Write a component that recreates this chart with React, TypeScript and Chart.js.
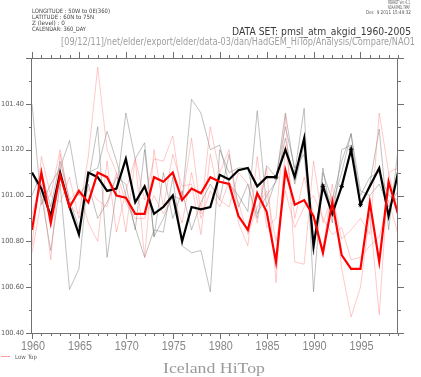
import React, { useEffect, useRef } from "react";
import { Chart, registerables } from "chart.js";
Chart.register(...registerables);

const years = [1960, 1961, 1962, 1963, 1964, 1965, 1966, 1967, 1968, 1969, 1970, 1971, 1972, 1973, 1974, 1975, 1976, 1977, 1978, 1979, 1980, 1981, 1982, 1983, 1984, 1985, 1986, 1987, 1988, 1989, 1990, 1991, 1992, 1993, 1994, 1995, 1996, 1997, 1998, 1999];

const hiTop = [101.10, 101.03, 100.91, 101.10, 100.95, 100.83, 101.10, 101.08, 101.02, 101.03, 101.16, 100.97, 101.04, 100.92, 100.95, 101.00, 100.80, 100.95, 100.94, 100.95, 101.09, 101.07, 101.11, 101.12, 101.04, 101.08, 101.08, 101.20, 101.08, 101.25, 100.78, 101.04, 100.92, 101.04, 101.20, 100.96, 101.04, 101.12, 100.91, 101.10];
const lowTop = [100.85, 101.10, 100.88, 101.09, 100.95, 101.02, 100.97, 101.10, 101.08, 101.00, 100.99, 100.92, 100.92, 101.08, 101.06, 101.10, 100.98, 101.03, 101.01, 101.08, 101.06, 101.05, 100.91, 100.85, 101.01, 100.93, 100.71, 101.11, 100.96, 100.98, 100.91, 100.75, 100.97, 100.74, 100.68, 100.68, 100.97, 100.71, 101.06, 100.92];

const hiMember1 = [101.40, 100.96, 101.05, 101.12, 101.24, 101.00, 101.06, 101.30, 100.73, 101.02, 101.36, 101.16, 101.23, 100.82, 100.90, 101.00, 100.98, 101.42, 101.36, 101.20, 101.22, 101.05, 101.00, 100.93, 101.37, 100.95, 101.07, 101.36, 101.10, 101.38, 100.58, 101.10, 100.98, 101.15, 101.27, 100.95, 101.05, 101.29, 100.85, 101.20];
const hiMember2 = [101.10, 101.00, 100.76, 101.05, 100.59, 100.68, 101.10, 101.12, 101.28, 101.15, 101.00, 100.86, 100.73, 100.85, 100.84, 101.08, 100.78, 100.75, 100.76, 100.58, 101.20, 101.10, 101.12, 101.12, 100.92, 101.00, 101.06, 101.25, 101.05, 101.22, 100.78, 101.05, 100.96, 101.10, 101.27, 101.02, 101.00, 101.05, 100.95, 101.02];
const hiMember3 = [101.00, 101.10, 100.95, 101.15, 100.98, 100.86, 101.05, 100.90, 100.97, 101.08, 101.05, 100.85, 101.20, 100.82, 101.10, 100.90, 101.02, 100.85, 100.97, 101.05, 100.98, 101.18, 100.95, 101.05, 100.90, 101.13, 101.08, 101.30, 101.12, 101.18, 100.74, 101.12, 100.88, 101.20, 101.22, 101.00, 101.08, 101.10, 101.00, 100.98];

const lowMember1 = [100.78, 101.17, 101.00, 101.20, 100.95, 100.92, 101.17, 101.56, 101.20, 101.10, 100.84, 101.16, 100.98, 101.16, 101.15, 101.26, 100.98, 101.25, 100.92, 101.30, 101.10, 101.20, 100.88, 100.78, 101.17, 100.86, 100.90, 101.35, 100.71, 100.70, 101.15, 100.88, 101.00, 100.81, 100.85, 100.90, 100.83, 101.36, 101.10, 101.12];
const lowMember2 = [100.92, 101.05, 100.72, 101.18, 100.98, 101.03, 100.88, 100.80, 101.15, 100.84, 101.02, 101.16, 100.73, 101.20, 100.95, 101.18, 101.04, 101.05, 100.83, 101.18, 100.98, 100.95, 101.10, 101.05, 100.88, 101.12, 100.62, 101.22, 100.90, 101.08, 100.92, 100.76, 101.05, 100.68, 100.47, 100.60, 100.92, 100.48, 101.10, 100.93];
const lowMember3 = [100.75, 100.98, 101.00, 100.97, 101.08, 100.90, 101.03, 100.98, 100.95, 101.10, 100.97, 100.90, 100.90, 101.00, 100.92, 101.00, 100.88, 101.10, 100.90, 101.02, 100.95, 101.06, 100.97, 100.83, 100.95, 101.02, 100.80, 101.02, 100.86, 100.95, 101.00, 100.90, 100.83, 100.86, 100.72, 100.73, 100.78, 100.82, 100.98, 100.83];

const markedYears = [1986, 1991, 1993, 1994, 1995];

const xTickLabels = ["1960", "1965", "1970", "1975", "1980", "1985", "1990", "1995"];
const yTickLabels = ["100.40", "100.60", "100.80", "101.00", "101.20", "101.40"];

function fitText(ctx: CanvasRenderingContext2D, text: string, x: number, y: number, font: string, color: string, width: number, align: string) {
  ctx.save();
  ctx.font = font;
  ctx.fillStyle = color;
  ctx.textBaseline = "middle";
  ctx.textAlign = "left";
  const w = ctx.measureText(text).width;
  const s = width / w;
  const x0 = align === "left" ? x : align === "center" ? x - width / 2 : x - width;
  ctx.translate(x0, y);
  ctx.scale(s, 1);
  ctx.fillText(text, 0, 0);
  ctx.restore();
}

const ferretPlugin = {
  id: "ferret",
  afterDraw(chart: any) {
    const ctx: CanvasRenderingContext2D = chart.ctx;
    const { left, right, top, bottom } = chart.chartArea;
    const xs = chart.scales.x;
    const ys = chart.scales.y;
    ctx.save();
    ctx.strokeStyle = "#707070";
    ctx.lineWidth = 1;
    ctx.strokeRect(Math.round(left) - 0.5, Math.round(top) + 0.5, Math.round(right - left), Math.round(bottom - top));

    ctx.beginPath();
    for (let y = 1960; y <= 1999; y++) {
      const px = Math.round(xs.getPixelForValue(y)) + 0.5;
      const len = y % 5 === 0 ? 6 : 3;
      ctx.moveTo(px, bottom);
      ctx.lineTo(px, bottom + len);
      ctx.moveTo(px, top);
      ctx.lineTo(px, top - len);
    }
    for (let k = 0; k <= 12; k++) {
      const v = 100.4 + k * 0.1;
      const py = Math.round(ys.getPixelForValue(v)) + 0.5;
      const len = k % 2 === 0 ? 6 : 3;
      ctx.moveTo(left, py);
      ctx.lineTo(left - len, py);
      ctx.moveTo(right, py);
      ctx.lineTo(right + len, py);
    }
    ctx.stroke();

    yTickLabels.forEach((t) => {
      const py = ys.getPixelForValue(parseFloat(t));
      fitText(ctx, t, 24, py, '7px "DejaVu Sans"', "#5a5a5a", 23, "right");
    });
    xTickLabels.forEach((t) => {
      const px = xs.getPixelForValue(parseFloat(t));
      fitText(ctx, t, px + 1, 346.5, '12px "Liberation Sans"', "#858585", 24, "center");
    });

    // header
    fitText(ctx, "LONGITUDE : 50W to 0E(360)", 32, 11, '6px "DejaVu Sans"', "#444444", 78, "left");
    fitText(ctx, "LATITUDE : 60N to 75N", 32, 17.5, '6px "DejaVu Sans"', "#444444", 62, "left");
    fitText(ctx, "Z (level) : 0", 32, 23.5, '6px "DejaVu Sans"', "#444444", 33, "left");
    fitText(ctx, "CALENDAR: 360_DAY", 32, 29.5, '6px "DejaVu Sans"', "#444444", 54, "left");
    fitText(ctx, "FERRET Ver. 6.1", 410, 3, '5px "DejaVu Sans"', "#555555", 22, "right");
    fitText(ctx, "NOAA/PMEL TMAP", 410, 8, '5px "DejaVu Sans"', "#555555", 22, "right");
    fitText(ctx, "Dec  9 2011 15:49:32", 411, 13, '5px "DejaVu Sans"', "#555555", 45, "right");
    fitText(ctx, "DATA SET: pmsl_atm_akgid_1960-2005", 232, 32.5, '10px "DejaVu Sans"', "#3a3a3a", 179, "left");
    fitText(ctx, "[09/12/11]/net/elder/export/elder/data-03/dan/HadGEM_HiTop/Analysis/Compare/NAO1", 61, 42.5, '10px "DejaVu Sans"', "#a0a0a0", 354, "left");

    // legend
    ctx.strokeStyle = "#ff9c9c";
    ctx.lineWidth = 1;
    ctx.beginPath();
    ctx.moveTo(1, 356.5);
    ctx.lineTo(10, 356.5);
    ctx.stroke();
    fitText(ctx, "Low Top", 15, 357, '6px "DejaVu Sans"', "#666666", 22, "left");

    // title
    fitText(ctx, "Iceland HiTop", 214, 369.5, '15px "Liberation Serif"', "#9a9a9a", 102, "center");
    ctx.restore();
  },
};

function pts(vals: number[]) {
  return vals.map((v, i) => ({ x: years[i], y: v }));
}

export default function App() {
  const ref = useRef<HTMLCanvasElement>(null);
  useEffect(() => {
    if (!ref.current) return;
    const grey = "rgba(110,110,110,0.55)";
    const pink = "rgba(255,120,120,0.5)";
    const thin = (vals: number[], color: string) => ({
      data: pts(vals),
      borderColor: color,
      borderWidth: 0.8,
      pointRadius: 0,
      fill: false,
    });
    const chart = new Chart(ref.current, {
      type: "line",
      data: {
        datasets: [
          {
            label: "Low Top",
            data: pts(lowTop),
            borderColor: "#ff0000",
            borderWidth: 2.2,
            pointRadius: 0,
            fill: false,
          },
          {
            label: "Hi Top",
            data: pts(hiTop),
            borderColor: "#000000",
            borderWidth: 2.2,
            pointStyle: "star",
            pointRadius: years.map((y) => (markedYears.includes(y) ? 2.3 : 0)),
            pointBorderColor: "#000000",
            pointBorderWidth: 1,
            fill: false,
          },
          thin(lowMember1, pink),
          thin(lowMember2, pink),
          thin(lowMember3, pink),
          thin(hiMember1, grey),
          thin(hiMember2, grey),
          thin(hiMember3, grey),
        ],
      } as any,
      options: {
        responsive: false,
        animation: false,
        devicePixelRatio: 1,
        layout: { padding: { left: 32, top: 58, right: 23, bottom: 44 } },
        elements: { line: { tension: 0 } },
        scales: {
          x: { type: "linear", min: 1960, max: 1999, display: false },
          y: { type: "linear", min: 100.4, max: 101.6, display: false },
        },
        plugins: { legend: { display: false }, tooltip: { enabled: false } },
      } as any,
      plugins: [ferretPlugin],
    });
    return () => chart.destroy();
  }, []);
  return (
    <div style={{ position: "absolute", left: 0, top: 0, width: 421, height: 377, background: "#fff" }}>
      <canvas ref={ref} width={421} height={377} style={{ display: "block" }} />
    </div>
  );
}
